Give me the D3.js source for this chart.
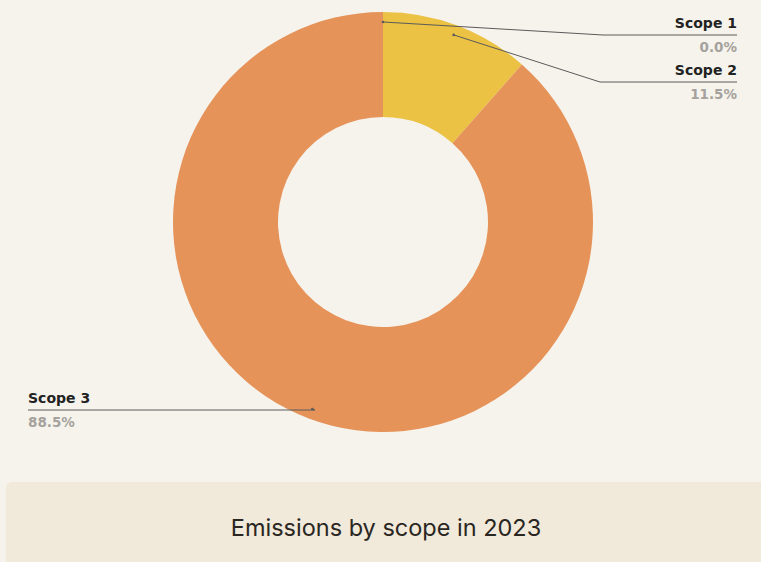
<!DOCTYPE html>
<html>
<head>
<meta charset="utf-8">
<script src="https://cdn.jsdelivr.net/npm/d3@7"></script>
<style>
  html, body { margin: 0; padding: 0; background: #f6f3ec; }
  svg { display: block; }
</style>
</head>
<body>
<div id="chart"></div>
<script>
const scopes = ["Scope 1", "Scope 2", "Scope 3"];
const shares = [0.0, 11.5, 88.5];
const colors = ["#d9772f", "#ebc244", "#e6935a"];
const title = "Emissions by scope in 2023";

let width = 761;
let height = 562;

const svg = d3.select("#chart").append("svg")
  .attr("width", width)
  .attr("height", height);

svg.append("rect")
  .attr("width", width)
  .attr("height", height)
  .attr("fill", "#f6f3ec");

const cx = 383, cy = 222;
const outerR = 210, innerR = 105;

let data = scopes.map((s, i) => ({ name: s, value: shares[i], color: colors[i] }));

const pie = d3.pie()
  .value(d => d.value)
  .sort(null);

const arcs = pie(data);

const arc = d3.arc()
  .innerRadius(innerR)
  .outerRadius(outerR);

const anchorArc = d3.arc()
  .innerRadius(200)
  .outerRadius(200);

const g = svg.append("g")
  .attr("transform", `translate(${cx},${cy})`);

g.selectAll("path")
  .data(arcs)
  .join("path")
  .attr("d", arc)
  .attr("fill", d => d.data.color);

// label layout: where the leader line turns and which side it goes
const labelSpots = [
  { y: 35, bendX: 603, side: "right" },
  { y: 82, bendX: 600, side: "right" },
  { y: 410, bendX: 315, side: "left" }
];

const fmt = d3.format(".1f");

arcs.forEach((d, i) => {
  let c = anchorArc.centroid(d);
  let ax = cx + c[0], ay = cy + c[1];
  let spot = labelSpots[i];
  let endX = spot.side === "right" ? 737 : 28;

  svg.append("polyline")
    .attr("points", [[ax, ay], [spot.bendX, spot.y], [endX, spot.y]].map(p => p.join(",")).join(" "))
    .attr("fill", "none")
    .attr("stroke", "#5a5a5a")
    .attr("stroke-width", 1);

  svg.append("circle")
    .attr("cx", ax)
    .attr("cy", ay)
    .attr("r", 1.3)
    .attr("fill", "#5a5a5a");

  let anchor = spot.side === "right" ? "end" : "start";

  svg.append("text")
    .attr("x", endX)
    .attr("y", spot.y - 7)
    .attr("text-anchor", anchor)
    .attr("font-family", "'DejaVu Sans', sans-serif")
    .attr("font-weight", "bold")
    .attr("font-size", 14)
    .attr("fill", "#222")
    .text(d.data.name);

  svg.append("text")
    .attr("x", endX)
    .attr("y", spot.y + 17)
    .attr("text-anchor", anchor)
    .attr("font-family", "'DejaVu Sans', sans-serif")
    .attr("font-weight", "bold")
    .attr("font-size", 13.5)
    .attr("fill", "#a5a29d")
    .text(fmt(d.data.value) + "%");
});

// caption box
svg.append("rect")
  .attr("x", 6)
  .attr("y", 482)
  .attr("width", width)
  .attr("height", height - 482 + 5)
  .attr("rx", 6)
  .attr("fill", "#f1e9d9");

svg.append("text")
  .attr("x", 386)
  .attr("y", 536)
  .attr("text-anchor", "middle")
  .attr("font-family", "Inter, sans-serif")
  .attr("font-size", 23.5)
  .attr("fill", "#2a2622")
  .text(title);
</script>
</body>
</html>
